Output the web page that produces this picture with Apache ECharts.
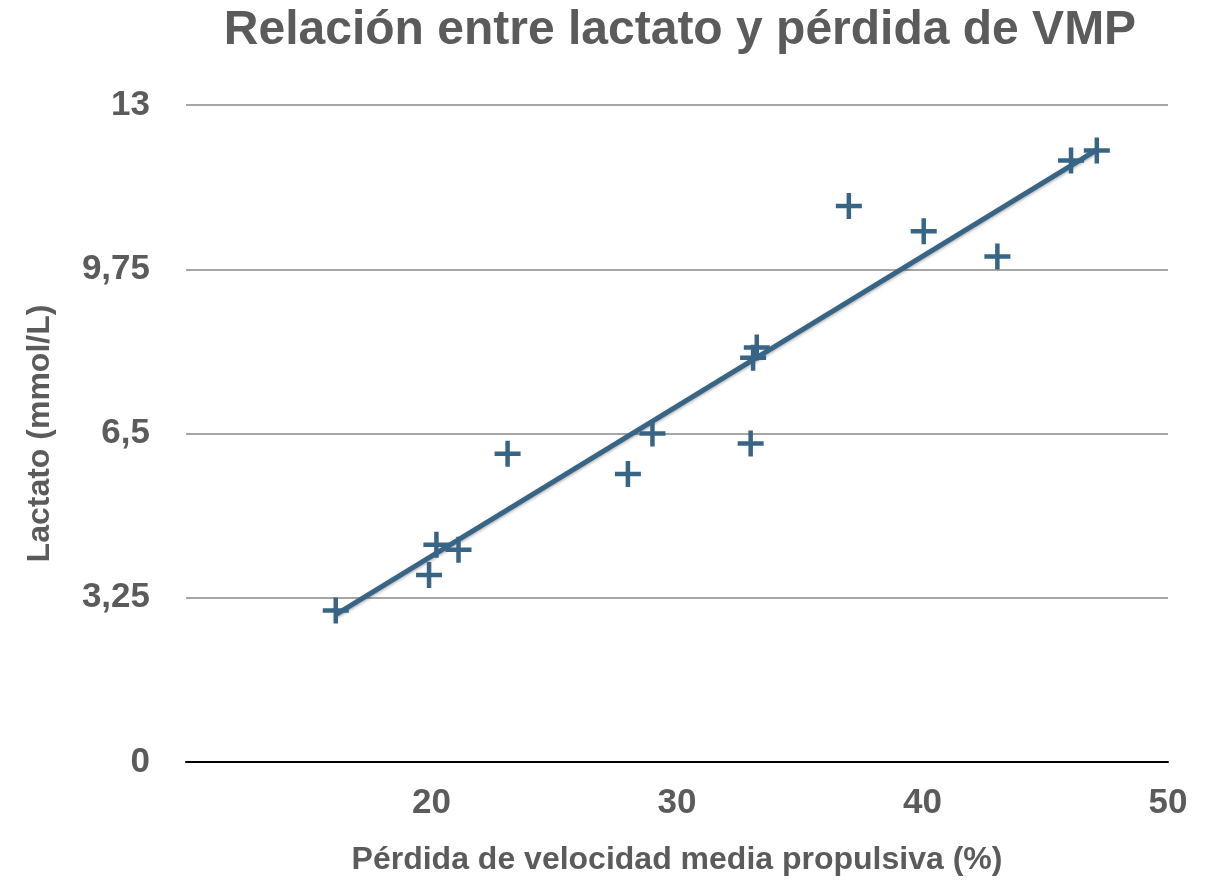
<!DOCTYPE html>
<html>
<head>
<meta charset="utf-8">
<style>
  html, body { margin: 0; padding: 0; background: #ffffff; }
  #chart { width: 1217px; height: 882px; }
</style>
<script src="https://cdn.jsdelivr.net/npm/echarts@6/dist/echarts.min.js"></script>
</head>
<body>
<div id="chart"></div>
<script>
// Data
var perdidaVMP = [16.1, 19.9, 20.2, 21.1, 23.1, 28.0, 29.0, 33.0, 33.1, 33.25, 37.0, 40.05, 43.05, 46.05, 47.1];
var lactato    = [3.0, 3.7, 4.3, 4.2, 6.1, 5.7, 6.5, 6.3, 8.0, 8.2, 11.0, 10.5, 10.0, 11.9, 12.1];
var yTicks = [0, 3.25, 6.5, 9.75, 13];
var xTicks = [10, 20, 30, 40, 50];

var titleText = 'Relación entre lactato y pérdida de VMP';
var xName = 'Pérdida de velocidad media propulsiva (%)';
var yName = 'Lactato (mmol/L)';

// Linear trendline (least squares) computed from the data
function regression(xs, ys) {
  var n = xs.length, mx = 0, my = 0, sxy = 0, sxx = 0;
  for (var i = 0; i < n; i++) { mx += xs[i]; my += ys[i]; }
  mx /= n; my /= n;
  for (var j = 0; j < n; j++) { sxy += (xs[j] - mx) * (ys[j] - my); sxx += (xs[j] - mx) * (xs[j] - mx); }
  var b = sxy / sxx;
  return { slope: b, intercept: my - b * mx };
}
var reg = regression(perdidaVMP, lactato);
var xMinData = Math.min.apply(null, perdidaVMP);
var xMaxData = Math.max.apply(null, perdidaVMP);
var trend = [xMinData, xMaxData].map(function (x) { return [x, reg.intercept + reg.slope * x]; });

var points = perdidaVMP.map(function (x, i) { return [x, lactato[i]]; });

var textGray = '#5b5b5b';
var markColor = '#386585';
var fontFam = '"Liberation Sans", Arial, Helvetica, sans-serif';

var chart = echarts.init(document.getElementById('chart'), null, { renderer: 'canvas' });
chart.setOption({
  backgroundColor: '#ffffff',
  animation: false,
  title: {
    text: titleText,
    left: 675,
    textAlign: 'center',
    top: 2,
    textStyle: { color: textGray, fontSize: 48, fontWeight: 'bold', fontFamily: fontFam }
  },
  grid: { left: 186, right: 49, top: 105, bottom: 120, containLabel: false },
  xAxis: {
    type: 'value',
    min: xTicks[0],
    max: xTicks[xTicks.length - 1],
    interval: xTicks[1] - xTicks[0],
    name: xName,
    nameLocation: 'middle',
    nameGap: 82,
    nameTextStyle: { color: textGray, fontSize: 32, fontWeight: 'bold', fontFamily: fontFam },
    axisLine: { show: true, onZero: false, lineStyle: { color: '#000000', width: 2 } },
    axisTick: { show: false },
    splitLine: { show: false },
    axisLabel: {
      showMinLabel: false,
      margin: 24,
      color: textGray, fontSize: 35, fontWeight: 'bold', fontFamily: fontFam
    }
  },
  yAxis: {
    type: 'value',
    min: yTicks[0],
    max: yTicks[yTicks.length - 1],
    interval: yTicks[1] - yTicks[0],
    name: yName,
    nameLocation: 'middle',
    nameGap: 130,
    nameRotate: 90,
    nameTextStyle: { color: textGray, fontSize: 32, fontWeight: 'bold', fontFamily: fontFam },
    axisLine: { show: false },
    axisTick: { show: false },
    splitLine: { show: true, lineStyle: { color: '#a6a6a6', width: 2 } },
    axisLabel: {
      margin: 36,
      padding: [6, 0, 0, 0],
      color: textGray, fontSize: 35, fontWeight: 'bold', fontFamily: fontFam,
      formatter: function (v) { return String(v).replace('.', ','); }
    }
  },
  series: [
    {
      name: 'Tendencia',
      type: 'line',
      data: trend,
      symbol: 'none',
      lineStyle: {
        color: markColor, width: 5,
        shadowColor: 'rgba(0,0,0,0.3)', shadowBlur: 3, shadowOffsetX: 1, shadowOffsetY: 1
      },
      z: 2
    },
    {
      name: 'Lactato',
      type: 'scatter',
      data: points,
      symbol: 'path://M10.75,0H15.25V10.75H26V15.25H15.25V26H10.75V15.25H0V10.75H10.75Z',
      symbolSize: 26,
      itemStyle: { color: markColor, opacity: 1 },
      z: 3
    }
  ]
});
</script>
</body>
</html>
